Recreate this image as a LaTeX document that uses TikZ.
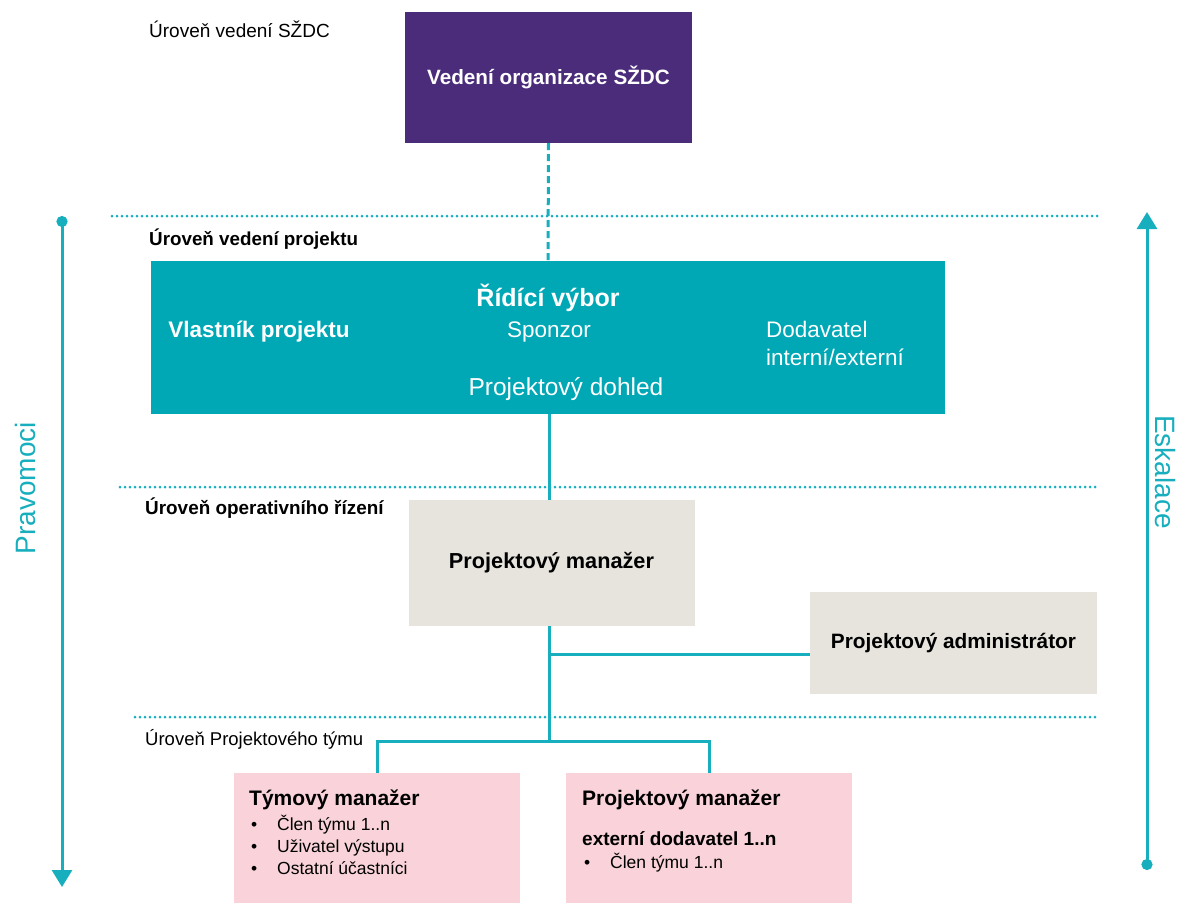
\documentclass[tikz,border=0pt]{standalone}
\usepackage{fontspec}
\setmainfont{Liberation Sans}
\usetikzlibrary{arrows.meta}
\definecolor{purp}{HTML}{4B2C7B}
\definecolor{tealbox}{HTML}{00A7B5}
\definecolor{tline}{HTML}{17AEBD}
\definecolor{greyb}{HTML}{E7E4DD}
\definecolor{pinkb}{HTML}{F9D3D9}
\newcommand\fsz[1]{\fontsize{#1}{#1}\selectfont}
\begin{document}
\begin{tikzpicture}[x=1pt,y=-1pt,
  fbox/.style={draw=none,inner sep=0pt,minimum width=#1},
  lvl/.style={anchor=base west,inner sep=0pt,text=black},
  txt/.style={inner sep=0pt},
  conn/.style={draw=tline,line width=3pt},
  dashconn/.style={draw=tline,line width=3pt,dash pattern=on 7pt off 4pt},
  dotline/.style={draw=tline,line width=3pt,dash pattern=on 0pt off 5pt,line cap=round},
  axisline/.style={draw=tline,line width=3pt,{Circle[length=11pt,width=11pt]}-{Triangle[width=20pt,length=17pt]}}
]
\useasboundingbox (0,0) rectangle (1184,903);

% level separators
\draw[dotline] (112,216) -- (1098,216);
\draw[dotline] (120,487) -- (1098,487);
\draw[dotline] (135,717) -- (1098,717);

% level labels
\node[lvl,font=\fsz{19}] (l1) at (149,37) {Úroveň vedení SŽDC};
\node[lvl,font=\bfseries\fsz{18.8}] (l2) at (149,245) {Úroveň vedení projektu};
\node[lvl,font=\bfseries\fsz{18.9}] (l3) at (145,514) {Úroveň operativního řízení};
\node[lvl,font=\fsz{18.5}] (l4) at (145,745) {Úroveň Projektového týmu};

% boxes
\node[fbox=287pt,minimum height=131pt,fill=purp,text=white,font=\bfseries\fsz{20.7}] (szdc) at (548.5,77.5) {Vedení organizace SŽDC};
\node[fbox=794pt,minimum height=153pt,fill=tealbox] (rv) at (548,337.5) {};
\node[fbox=286pt,minimum height=126pt,fill=greyb,font=\bfseries\fsz{21.7}] (pm) at (551.5,563) {Projektový manažer};
\node[fbox=287pt,minimum height=102pt,fill=greyb,font=\bfseries\fsz{20.8}] (adm) at (953.5,643) {Projektový administrátor};
\node[fbox=286pt,minimum height=130pt,fill=pinkb] (pk1) at (377,838) {};
\node[fbox=286pt,minimum height=130pt,fill=pinkb] (pk2) at (709,838) {};

% steering committee texts
\begin{scope}[every node/.style={txt,text=white}]
\node[anchor=base,font=\bfseries\fsz{25}] (rv1) at (548,306) {Řídící výbor};
\node[anchor=base,font=\bfseries\fsz{22.5}] (rv2) at (259,337) {Vlastník projektu};
\node[anchor=base,font=\fsz{22.5}] (rv3) at (549,337) {Sponzor};
\node[anchor=base west,font=\fsz{22.5}] (rv4) at (766,337) {Dodavatel};
\node[anchor=base west,font=\fsz{22.5}] (rv5) at (766,365) {interní/externí};
\node[anchor=base,font=\fsz{24.5}] (rv6) at (566,395) {Projektový dohled};
\end{scope}

% team boxes texts
\begin{scope}[every node/.style={txt,anchor=base west,text=black}]
\node[font=\bfseries\fsz{21}] (t1) at (249,805) {Týmový manažer};
\node[font=\fsz{17.5}] (b1) at (251,830) {•};
\node[font=\fsz{17.5}] (t2) at (277,830) {Člen týmu 1..n};
\node[font=\fsz{17.5}] (b2) at (251,852) {•};
\node[font=\fsz{17.5}] (t3) at (277,852) {Uživatel výstupu};
\node[font=\fsz{17.5}] (b3) at (251,874) {•};
\node[font=\fsz{17.5}] (t4) at (277,874) {Ostatní účastníci};
\node[font=\bfseries\fsz{21}] (u1) at (582,805) {Projektový manažer};
\node[font=\bfseries\fsz{19}] (u2) at (582,845) {externí dodavatel 1..n};
\node[font=\fsz{17.5}] (b4) at (584,868) {•};
\node[font=\fsz{17.5}] (u3) at (610,868) {Člen týmu 1..n};
\end{scope}

% connectors
\coordinate (ja) at (549,654);
\coordinate (hub) at (549,741);
\draw[dashconn] (szdc.south) -- (rv.north);
\draw[conn] (rv.south -| ja) -- (pm.north -| ja);
\draw[conn] (pm.south -| ja) -- (hub);
\draw[conn] (ja) -- (adm.west |- ja);
\draw[conn] (pk1.north) |- (hub) -| (pk2.north);

% side axes
\draw[axisline] (62,216) -- (62,887);
\draw[axisline] (1147,870) -- (1147,212);
\node[txt,rotate=90,text=tline,font=\fsz{28}] (prav) at (25,488) {Pravomoci};
\node[txt,rotate=-90,text=tline,font=\fsz{28}] (esk) at (1165,472) {Eskalace};
\end{tikzpicture}
\end{document}
